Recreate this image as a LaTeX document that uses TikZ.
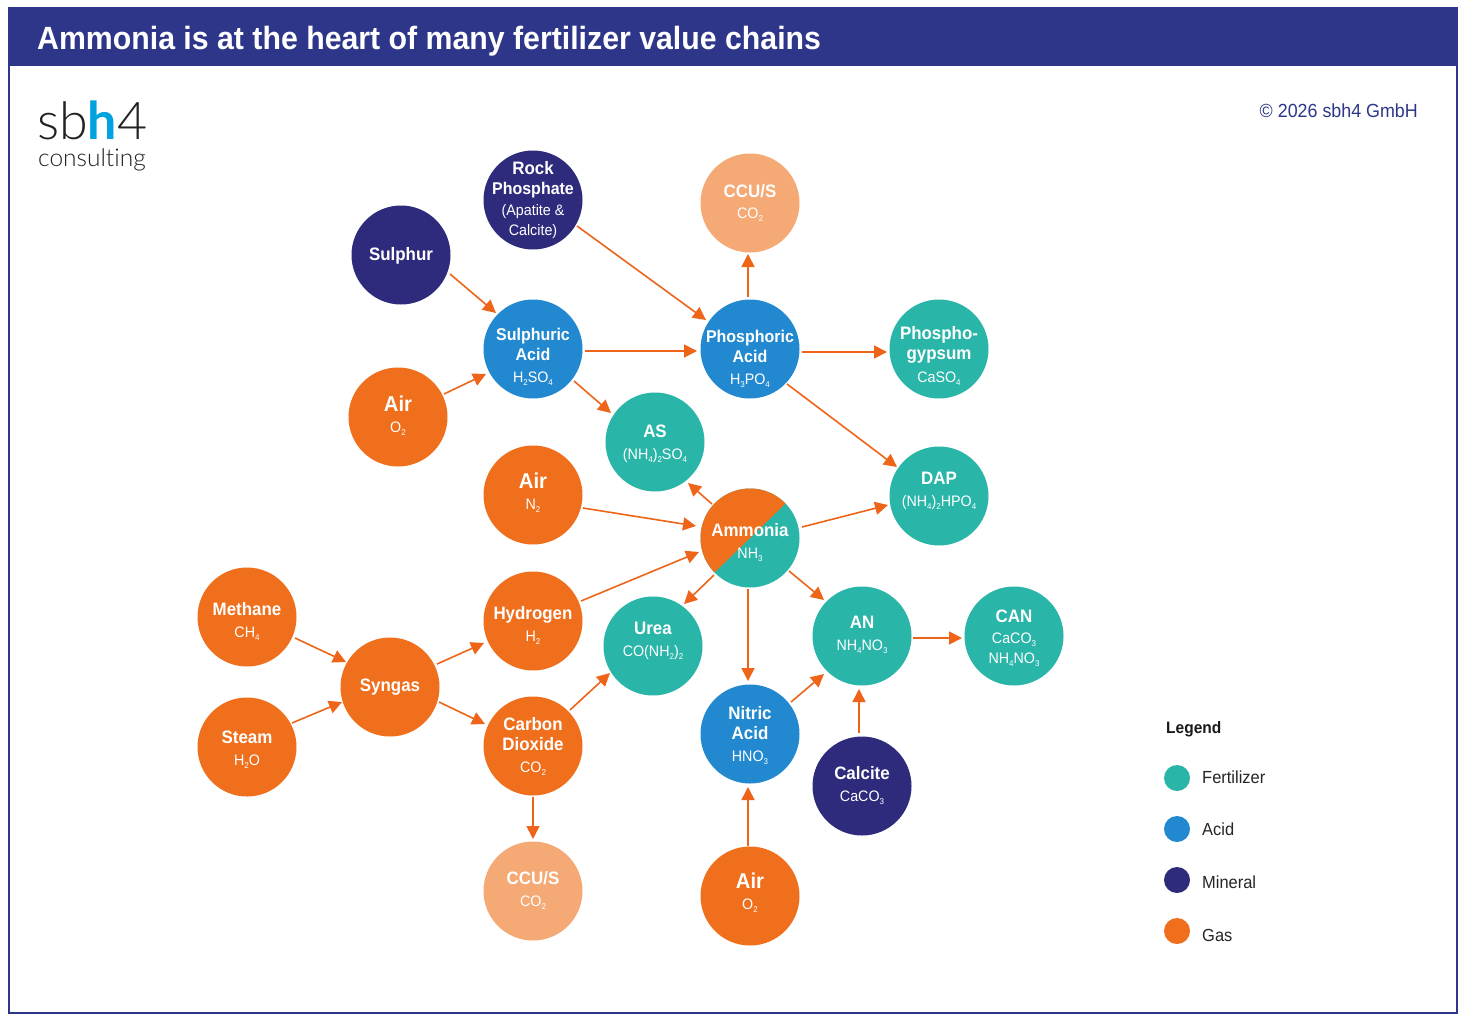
\documentclass[tikz,border=0pt]{standalone}
\usepackage{fontspec}
\usetikzlibrary{arrows.meta}
\setmainfont{Liberation Sans}[FakeStretch=0.94]
\newfontfamily\logofont{Lato Light}[Ligatures=NoCommon]
\newfontfamily\logobold{Lato}[BoldFont={* Bold}]
\definecolor{navybar}{HTML}{2E3689}
\definecolor{fertc}{HTML}{2AB5A9}
\definecolor{acidc}{HTML}{2289D0}
\definecolor{minc}{HTML}{2E2A7C}
\definecolor{gasc}{HTML}{EF6F1C}
\definecolor{ccuc}{HTML}{F5A975}
\definecolor{arrc}{HTML}{EE6419}
\definecolor{logoblue}{HTML}{00A3E0}
\definecolor{logoink}{HTML}{222222}
\newsavebox\tbx
\newcommand\ctxt[2][0]{\sbox\tbx{\begin{tabular}{@{}c@{}}#2\end{tabular}}\makebox[0pt]{\smash{\raisebox{\dimexpr(.5\dp\tbx-.5\ht\tbx-#1pt)/2\relax}{\usebox\tbx}}}}
\newcommand\tn[1]{{\fontsize{18}{20}\selectfont\bfseries #1}}
\newcommand\tm[1]{{\fontsize{17}{20}\selectfont\bfseries #1}}
\newcommand\tl[1]{{\fontsize{21.5}{23}\selectfont\bfseries #1}}
\newcommand\sn[1]{{\fontsize{15.2}{16}\selectfont #1}}
\newcommand\sbs[1]{\raisebox{-3pt}{\fontsize{8.5}{8.5}\selectfont #1}}
\tikzset{
  x=1pt,y=-1pt,
  ball/.style={circle,minimum size=99pt,inner sep=0pt,outer sep=0pt,text=white,font=\fontsize{18}{20}\selectfont},
  fert/.style={ball,fill=fertc},
  acid/.style={ball,fill=acidc},
  mineral/.style={ball,fill=minc},
  gas/.style={ball,fill=gasc},
  ccu/.style={ball,fill=ccuc},
  conn/.style={draw=arrc,line width=1.6pt,-{Triangle[length=13pt,width=13pt]}},
  keydot/.style={circle,minimum size=26pt,inner sep=0pt},
  keytxt/.style={anchor=west,inner sep=0pt,font=\fontsize{17.5}{19}\selectfont,text=black!85},
}
\newcommand\link[4]{\draw[conn] ([shift={(#2)}]#1.center) -- ([shift={(#4)}]#3.center);}
\begin{document}
\begin{tikzpicture}
\useasboundingbox (0,0) rectangle (1463,1020);
\fill[white] (0,0) rectangle (1463,1020);
\node[draw=navybar,line width=1.8pt,outer sep=0pt,minimum width=1448pt,minimum height=1005pt,inner sep=0pt,anchor=north west] (frame) at (8.8,8) {};
\node[fill=navybar,minimum width=1450pt,minimum height=59pt,inner sep=0pt,outer sep=0pt,anchor=north west] (bar) at (8,7) {};
\node[anchor=base west,inner sep=0pt,text=white,font=\fontsize{32.2}{36}\selectfont\bfseries] (title) at (37,49) {Ammonia is at the heart of many fertilizer value chains};
\node[anchor=base west,inner sep=0pt,text=logoink,font=\fontsize{52}{52}\selectfont\logofont] (logo) at (37,139) {sb{\logobold\bfseries\color{logoblue}h}4};
\node[anchor=base west,inner sep=0pt,text=logoink,font=\fontsize{24.5}{25}\selectfont\logofont] (logosub) at (38,166) {consulting};
\node[anchor=east,inner sep=0pt,text=navybar,font=\fontsize{19}{21}\selectfont] (copy) at (1418,111) {© 2026 sbh4 GmbH};

\node[mineral] (rock) at (533,200) {\ctxt[7]{\tn{Rock}\\\tm{Phosphate}\\[1pt]\sn{(Apatite \&}\\\sn{Calcite)}}};
\node[ccu] (ccutop) at (750,203) {\ctxt[6]{\tn{CCU/S}\\[1pt]\sn{CO\sbs{2}}}};
\node[mineral] (sulphur) at (401,255) {\ctxt[8]{\tn{Sulphur}}};
\node[acid] (sacid) at (533,349) {\ctxt[21]{\tm{Sulphuric}\\\tm{Acid}\\[2pt]\sn{H\sbs{2}SO\sbs{4}}}};
\node[acid] (pacid) at (750,349) {\ctxt[26]{\tm{Phosphoric}\\\tm{Acid}\\[2pt]\sn{H\sbs{3}PO\sbs{4}}}};
\node[fert] (gypsum) at (939,349) {\ctxt[21]{\tn{Phospho-}\\\tn{gypsum}\\[3pt]\sn{CaSO\sbs{4}}}};
\node[gas] (airs) at (398,417) {\ctxt[5]{\tl{Air}\\[1pt]\sn{O\sbs{2}}}};
\node[fert] (as) at (655,442) {\ctxt[9]{\tn{AS}\\[2pt]\sn{(NH\sbs{4})\sbs{2}SO\sbs{4}}}};
\node[gas] (airn) at (533,495) {\ctxt[2]{\tl{Air}\\[1pt]\sn{N\sbs{2}}}};
\node[fert,path picture={\fill[gasc] (36,-35) -- (-35,34) -- (-80,34) -- (-80,-80) -- (36,-80) -- cycle;}] (ammonia) at (750,538) {\ctxt[15]{\tn{Ammonia}\\[2pt]\sn{NH\sbs{3}}}};
\node[fert] (dap) at (939,496) {\ctxt[-4]{\tn{DAP}\\[2pt]\sn{(NH\sbs{4})\sbs{2}HPO\sbs{4}}}};
\node[gas] (methane) at (247,617) {\ctxt[16]{\tn{Methane}\\[2pt]\sn{CH\sbs{4}}}};
\node[gas] (hydrogen) at (533,621) {\ctxt[16]{\tn{Hydrogen}\\[2pt]\sn{H\sbs{2}}}};
\node[fert] (urea) at (653,646) {\ctxt[-4]{\tn{Urea}\\[2pt]\sn{CO(NH\sbs{2})\sbs{2}}}};
\node[fert] (an) at (862,636) {\ctxt[4]{\tn{AN}\\[2pt]\sn{NH\sbs{4}NO\sbs{3}}}};
\node[fert] (can) at (1014,636) {\ctxt[11]{\tn{CAN}\\[1pt]\sn{CaCO\sbs{3}}\\\sn{NH\sbs{4}NO\sbs{3}}}};
\node[gas] (syngas) at (390,687) {\ctxt[5]{\tn{Syngas}}};
\node[gas] (steam) at (247,747) {\ctxt[11]{\tn{Steam}\\[2pt]\sn{H\sbs{2}O}}};
\node[gas] (cotwo) at (533,746) {\ctxt[8]{\tn{Carbon}\\\tn{Dioxide}\\[2pt]\sn{CO\sbs{2}}}};
\node[acid] (nacid) at (750,734) {\ctxt[9]{\tn{Nitric}\\\tn{Acid}\\[2pt]\sn{HNO\sbs{3}}}};
\node[mineral] (calcite) at (862,786) {\ctxt[5]{\tn{Calcite}\\[2pt]\sn{CaCO\sbs{3}}}};
\node[ccu] (ccubot) at (533,891) {\ctxt[5]{\tn{CCU/S}\\[2pt]\sn{CO\sbs{2}}}};
\node[gas] (airo) at (750,896) {\ctxt[1]{\tl{Air}\\[1pt]\sn{O\sbs{2}}}};

\link{sulphur}{49,19}{sacid}{-37,-36}
\link{rock}{44,26}{pacid}{-44,-29}
\link{sacid}{52,2}{pacid}{-53,2}
\link{pacid}{-2,-52}{ccutop}{-2,51}
\link{pacid}{52,3}{gypsum}{-52,3}
\link{airs}{46,-23}{sacid}{-47,25}
\link{sacid}{41,32}{as}{-44,-29}
\link{pacid}{37,35}{dap}{-42,-29}
\link{airn}{50,13}{ammonia}{-54,-12}
\link{ammonia}{-38,-34}{as}{33,41}
\link{ammonia}{52,-11}{dap}{-51,9}
\link{hydrogen}{48,-20}{ammonia}{-51,14}
\link{ammonia}{-36,37}{urea}{31,-42}
\link{ammonia}{39,33}{an}{-38,-36}
\link{ammonia}{-2,51}{nacid}{-2,-53}
\link{methane}{48,21}{syngas}{-44,-25}
\link{steam}{45,-24}{syngas}{-48,15}
\link{syngas}{47,-23}{hydrogen}{-49,22}
\link{syngas}{49,15}{cotwo}{-48,-22}
\link{cotwo}{37,-36}{urea}{-43,27}
\link{cotwo}{0,51}{ccubot}{0,-52}
\link{nacid}{41,-32}{an}{-38,38}
\link{an}{51,2}{can}{-52,2}
\link{calcite}{-3,-53}{an}{-3,53}
\link{airo}{-2,-50}{nacid}{-2,53}

\node[anchor=west,inner sep=0pt,font=\fontsize{16.5}{19}\selectfont\bfseries,text=black!90] (legend) at (1166,729) {Legend};
\node[keydot,fill=fertc] (k1) at (1177,778) {};
\node[keydot,fill=acidc] (k2) at (1177,829) {};
\node[keydot,fill=minc] (k3) at (1177,880) {};
\node[keydot,fill=gasc] (k4) at (1177,931) {};
\node[keytxt] (t1) at (1202,777) {Fertilizer};
\node[keytxt] (t2) at (1202,829) {Acid};
\node[keytxt] (t3) at (1202,882) {Mineral};
\node[keytxt] (t4) at (1202,935) {Gas};
\end{tikzpicture}
\end{document}
